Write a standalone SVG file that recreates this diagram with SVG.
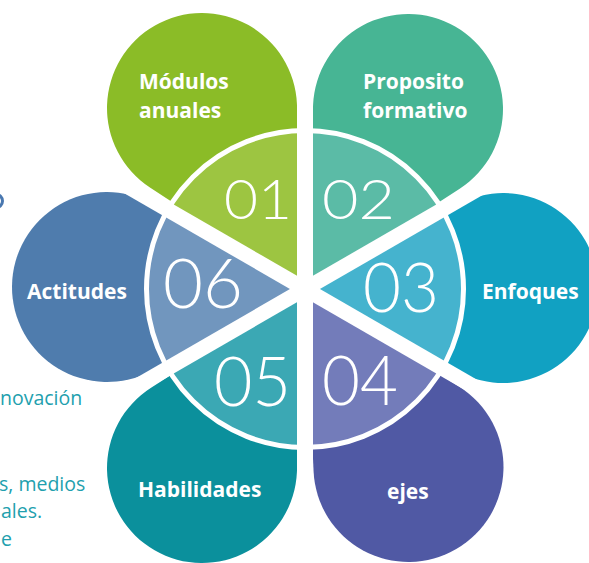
<svg xmlns="http://www.w3.org/2000/svg" width="589" height="563" viewBox="0 0 589 563">
<style>
.lbl{font-family:"Open Sans","Noto Sans","Liberation Sans",sans-serif;font-weight:700;font-size:21px;fill:#fff}
.num{font-family:Lato,"Open Sans","Liberation Sans",sans-serif;font-weight:300;fill:#fff}
.side{font-family:"Open Sans","Noto Sans","Liberation Sans",sans-serif;font-size:19.5px;fill:#229fae}
.div{stroke:#fff;stroke-linecap:butt}
</style>
<rect width="589" height="563" fill="#fff"/>
<g id="side-text">
<circle cx="-4" cy="201" r="6.5" fill="none" stroke="#4a78b0" stroke-width="3"/>
<text class="side" x="0" y="405">novación</text>
<text class="side" x="-1" y="491">s, medios</text>
<text class="side" x="1" y="518">ales.</text>
<text class="side" x="1" y="546">e</text>
</g>
<g id="node-01">
<path d="M305,289 L149.95,187.48 A95,95 0 1 1 296.92,103.85 Z" fill="#8bbc27"/>
<path d="M305,289 L305,130 A159,159 0 0 0 167.3,209.5 Z" fill="#9dc541"/>
<text class="num" x="224" y="219" font-size="55" textLength="68" lengthAdjust="spacingAndGlyphs">01</text>
<text class="lbl" x="139" y="89">Módulos</text>
<text class="lbl" x="139" y="118">anuales</text>
</g>
<g id="node-02">
<path d="M305,289 L313.09,104.83 A95,95 0 1 1 459.68,188.70 Z" fill="#47b594"/>
<path d="M305,289 L442.7,209.5 A159,159 0 0 0 305,130 Z" fill="#5bbba6"/>
<text class="num" x="322" y="219" font-size="55" textLength="73" lengthAdjust="spacingAndGlyphs">02</text>
<text class="lbl" x="363" y="89">Proposito</text>
<text class="lbl" x="363" y="118">formativo</text>
</g>
<g id="node-03">
<path d="M305,289 L457.0,204.89 A95,95 0 1 1 457.84,371.59 Z" fill="#11a1c2"/>
<path d="M305,289 L442.7,368.5 A159,159 0 0 0 442.7,209.5 Z" fill="#45b3ce"/>
<text class="num" x="363" y="312" font-size="68" textLength="76" lengthAdjust="spacingAndGlyphs">03</text>
<text class="lbl" x="482" y="299">Enfoques</text>
</g>
<g id="node-04">
<path d="M305,289 L459.35,386.75 A95,95 0 1 1 313.60,471.48 Z" fill="#5059a4"/>
<path d="M305,289 L305,448 A159,159 0 0 0 442.7,368.5 Z" fill="#737cba"/>
<text class="num" x="322" y="405" font-size="68" textLength="76" lengthAdjust="spacingAndGlyphs">04</text>
<text class="lbl" x="387" y="499">ejes</text>
</g>
<g id="node-05">
<path d="M305,289 L296.91,472.17 A95,95 0 1 1 150.69,388.04 Z" fill="#0b909c"/>
<path d="M305,289 L167.3,368.5 A159,159 0 0 0 305,448 Z" fill="#3ba8b4"/>
<text class="num" x="214" y="406" font-size="68" textLength="77" lengthAdjust="spacingAndGlyphs">05</text>
<text class="lbl" x="138" y="497">Habilidades</text>
</g>
<g id="node-06">
<path d="M305,289 L151.73,370.81 A95,95 0 1 1 153.42,204.10 Z" fill="#4f7cad"/>
<path d="M305,289 L167.3,209.5 A159,159 0 0 0 167.3,368.5 Z" fill="#7196be"/>
<text class="num" x="163" y="308" font-size="68" textLength="80" lengthAdjust="spacingAndGlyphs">06</text>
<text class="lbl" x="27" y="299">Actitudes</text>
</g>
<g id="connectors">
<circle cx="305" cy="289" r="158.5" fill="none" stroke="#fff" stroke-width="5"/>
<line class="div" x1="305" y1="49" x2="305" y2="529" stroke-width="16"/>
<line class="div" x1="97.2" y1="169" x2="512.8" y2="409" stroke-width="15"/>
<line class="div" x1="97.2" y1="409" x2="512.8" y2="169" stroke-width="15"/>
</g>
</svg>
